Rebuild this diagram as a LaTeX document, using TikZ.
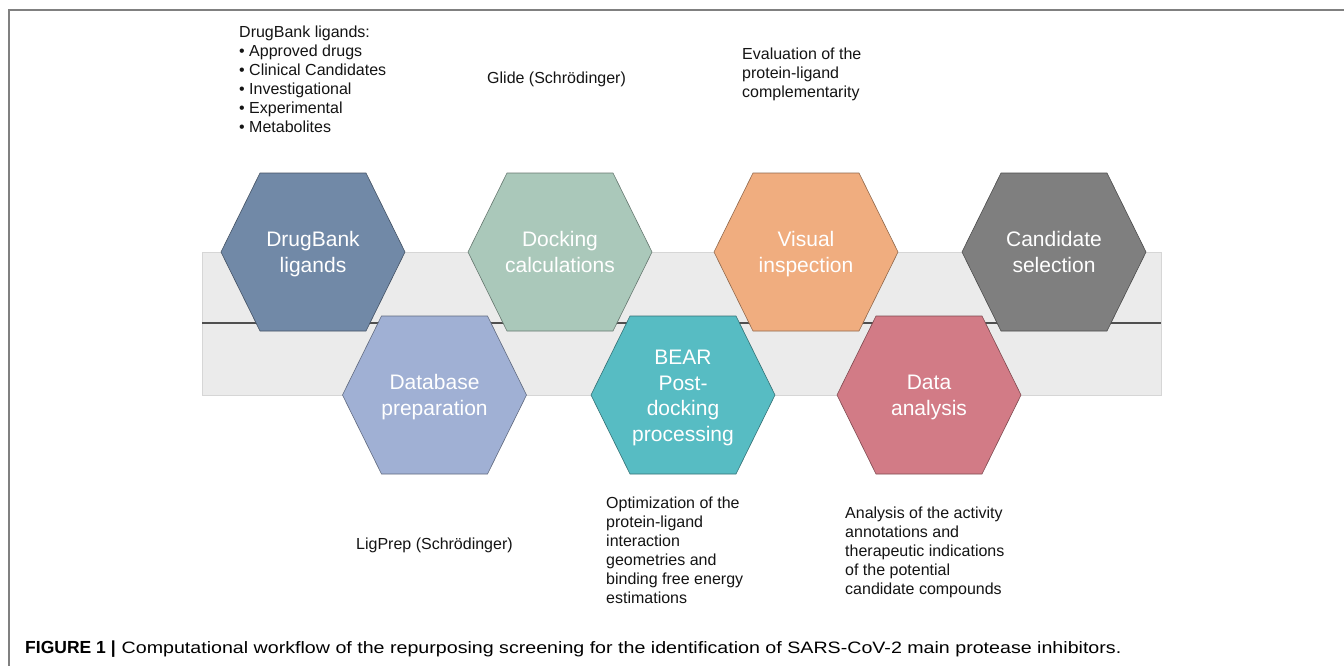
\documentclass[tikz,border=0pt]{standalone}
\usepackage{fontspec}
\setmainfont{Liberation Sans}
\definecolor{cDrug}{HTML}{7189A7}
\definecolor{cDock}{HTML}{AAC8BA}
\definecolor{cVis}{HTML}{F0AD7F}
\definecolor{cCand}{HTML}{7F7F7F}
\definecolor{cDb}{HTML}{A0B0D4}
\definecolor{cBear}{HTML}{57BCC3}
\definecolor{cData}{HTML}{D27B86}
\definecolor{cBand}{HTML}{EBEBEB}
\definecolor{cBandEdge}{HTML}{D6D6D6}
\definecolor{cRail}{HTML}{4F4F4F}
\definecolor{cFrame}{HTML}{808080}
% name, x, y, colour, baseline of last text line, text
\newcommand{\hexnode}[6]{%
  \filldraw[fill=#4, draw=#4!60!black, line width=0.6pt]
    (#2-92,#3) -- (#2-53,#3-79) -- (#2+53,#3-79) -- (#2+92,#3)
    -- (#2+53,#3+79) -- (#2-53,#3+79) -- cycle;
  \node[hextext] (#1) at (#2,#5) {#6};
}
\tikzset{
  hextext/.style={text=white, align=center, inner sep=0pt, anchor=base,
    font=\fontsize{21}{25.7}\selectfont},
  note/.style={anchor=base west, align=left, inner sep=0pt,
    text=black!92, font=\fontsize{16}{19}\selectfont},
}
\begin{document}
\begin{tikzpicture}[x=1pt,y=-1pt]
\useasboundingbox (0,0) rectangle (1344,666);
\fill[white] (0,0) rectangle (1344,666);
% frame
\coordinate (ftl) at (9,10);
\coordinate (ftr) at (1344,10);
\coordinate (fbl) at (9,666);
\draw[cFrame, line width=1.5pt] (ftr) -- (ftl) -- (fbl);
% band
\draw[fill=cBand, draw=cBandEdge, line width=0.8pt] (202,252) rectangle (1161,395);
\coordinate (railL) at (202,323);
\coordinate (railR) at (1161,323);
\draw[cRail, line width=2.6pt] (railL) -- (railR);
% hexagons top row
\hexnode{drug}{313}{252}{cDrug}{272}{DrugBank\\ligands}
\hexnode{dock}{560}{252}{cDock}{272}{Docking\\calculations}
\hexnode{vis}{806}{252}{cVis}{272}{Visual\\inspection}
\hexnode{cand}{1054}{252}{cCand}{272}{Candidate\\selection}
% hexagons bottom row
\hexnode{db}{434.5}{395}{cDb}{415}{Database\\preparation}
\hexnode{bear}{683}{395}{cBear}{441.5}{BEAR\\Post-\\docking\\processing}
\hexnode{data}{929}{395}{cData}{415}{Data\\analysis}
% annotations (positioned at the baseline of their last line)
\node[note] (nDrug) at (239,133) {DrugBank ligands:\\• Approved drugs\\• Clinical Candidates\\• Investigational\\• Experimental\\• Metabolites};
\node[note] (nGlide) at (487,84) {Glide (Schrödinger)};
\node[note] (nEval) at (742,98) {Evaluation of the\\protein-ligand\\complementarity};
\node[note] (nLig) at (356,549) {LigPrep (Schrödinger)};
\node[note] (nOpt) at (606,603) {Optimization of the\\protein-ligand\\interaction\\geometries and\\binding free energy\\estimations};
\node[note] (nAna) at (845,594) {Analysis of the activity\\annotations and\\therapeutic indications\\of the potential\\candidate compounds};
% caption
\node[anchor=base west, inner sep=0pt, font=\fontsize{17.5}{20}\selectfont] (cap) at (25,653)
  {\textbf{FIGURE 1 |}\hspace{6pt}{\fontsize{16.5}{19}\selectfont\scalebox{1.19}[1]{Computational workflow of the repurposing screening for the identification of SARS-CoV-2 main protease inhibitors.}}};
\end{tikzpicture}
\end{document}
